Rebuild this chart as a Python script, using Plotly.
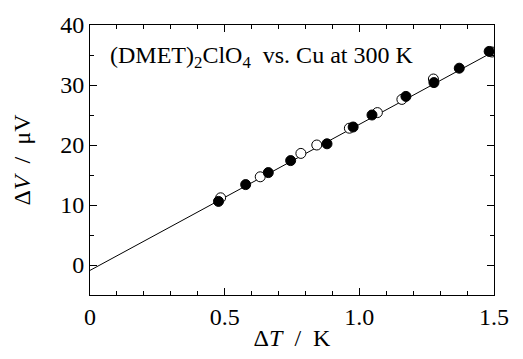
import plotly.graph_objects as go

# Data
open_x = [0.485, 0.632, 0.783, 0.842, 0.963, 1.067, 1.158, 1.275, 1.493]
open_y = [11.2, 14.7, 18.6, 20.0, 22.8, 25.4, 27.6, 31.0, 35.5]
filled_x = [0.477, 0.578, 0.662, 0.745, 0.880, 0.977, 1.047, 1.173, 1.277, 1.371, 1.482]
filled_y = [10.6, 13.4, 15.4, 17.4, 20.2, 23.0, 25.0, 28.1, 30.4, 32.8, 35.6]
fit_x = [0.0, 1.5]
fit_y = [-0.9, 35.6]

FONT = "Liberation Serif"
FS = 24

fig = go.Figure()
fig.add_trace(go.Scatter(x=fit_x, y=fit_y, mode="lines",
                         line=dict(color="#000000", width=1), showlegend=False))
fig.add_trace(go.Scatter(x=open_x, y=open_y, mode="markers",
                         marker=dict(size=10, color="#ffffff", line=dict(color="#000000", width=1)),
                         showlegend=False))
fig.add_trace(go.Scatter(x=filled_x, y=filled_y, mode="markers",
                         marker=dict(size=10, color="#000000", line=dict(color="#000000", width=1)),
                         showlegend=False))

fig.update_xaxes(range=[0, 1.5], tick0=0, dtick=0.5, tickformat=".1f", labelalias={"0.0": "0"},
                 showgrid=False, zeroline=False, showline=True, linecolor="#000000", linewidth=1,
                 mirror="ticks", ticks="inside", ticklen=7, tickwidth=1, tickcolor="#000000",
                 minor=dict(dtick=0.1, tick0=0, ticks="inside", ticklen=4, tickwidth=1, tickcolor="#000000"),
                 tickfont=dict(family=FONT, size=FS, color="#000000"),
                 title=dict(text="Δ<i>T</i>  /  K", font=dict(family=FONT, size=FS, color="#000000"), standoff=0))
fig.update_yaxes(range=[-5, 40], tick0=0, dtick=10,
                 showgrid=False, zeroline=False, showline=True, linecolor="#000000", linewidth=1,
                 mirror="ticks", ticks="inside", ticklen=7, tickwidth=1, tickcolor="#000000",
                 minor=dict(dtick=5, tick0=0, ticks="inside", ticklen=4, tickwidth=1, tickcolor="#000000"),
                 tickfont=dict(family=FONT, size=FS, color="#000000"),
                 title=dict(text="Δ<i>V</i>  /  μV", font=dict(family=FONT, size=FS, color="#000000"), standoff=22))

fig.add_annotation(x=0.045, y=0.883, xref="paper", yref="paper", xanchor="left", yanchor="middle",
                   text="(DMET)<sub>2</sub>ClO<sub>4</sub>  vs. Cu at 300 K", showarrow=False,
                   font=dict(family=FONT, size=FS, color="#000000"))

fig.update_layout(width=523, height=359, margin=dict(l=90, r=29, t=16, b=53),
                  paper_bgcolor="#ffffff", plot_bgcolor="#ffffff")

fig.write_html("out.html")
